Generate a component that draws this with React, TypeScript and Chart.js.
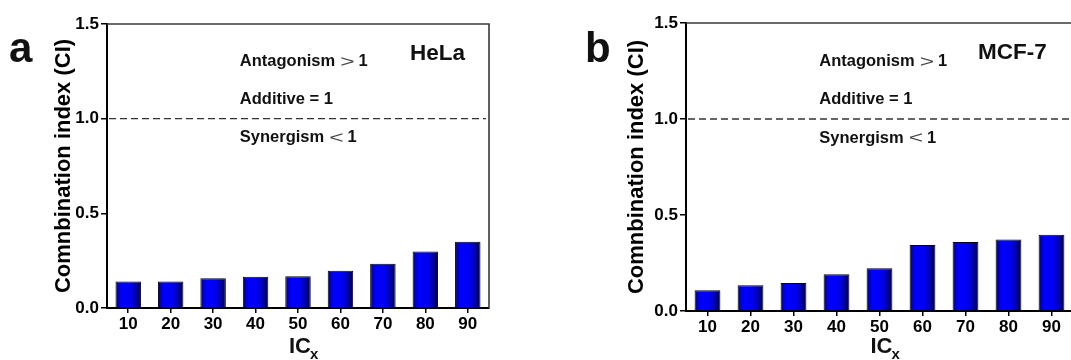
import React, { useEffect, useRef } from 'react';
import { Chart, registerables } from 'chart.js';

Chart.register(...registerables);

// ---------- data ----------
const categories = ['10', '20', '30', '40', '50', '60', '70', '80', '90'];
const helaCI = [0.14, 0.14, 0.157, 0.165, 0.168, 0.197, 0.234, 0.299, 0.35];
const mcf7CI = [0.108, 0.134, 0.146, 0.191, 0.223, 0.344, 0.359, 0.373, 0.397];
const yTickValues = [0, 0.5, 1.0, 1.5];
const referenceCI = 1.0;
const yAxisTitle = 'Comnbination index (CI)';
const xAxisTitle = 'IC';
const xAxisSubscript = 'x';
const cellLines = ['HeLa', 'MCF-7'];
const panelLetters = ['a', 'b'];

// ---------- annotation layout ----------
const FONT = '"Liberation Sans", Arial, Helvetica, sans-serif';
const relationNotes = [
  { word: 'Antagonism', sym: '>', num: '1', yValue: 1.3 },
  { word: 'Additive = 1', sym: '', num: '', yValue: 1.1 },
  { word: 'Synergism', sym: '<', num: '1', yValue: 0.9 },
];

type PanelCfg = {
  letter: string;
  cell: string;
  values: number[];
  left: number;
  width: number;
  padTop: number;
  padRight: number;
  yWidth: number;
  xHeight: number;
  titleGap: number;
  letterX: number;
  noteX: number;
  cellX: number;
  cellY: number;
};

const panels: PanelCfg[] = [
  {
    letter: panelLetters[0], cell: cellLines[0], values: helaCI,
    left: 0, width: 536, padTop: 24, padRight: 47, yWidth: 107, xHeight: 52,
    titleGap: 51, letterX: 9, noteX: 2.63, cellX: 6.64, cellY: 1.345,
  },
  {
    letter: panelLetters[1], cell: cellLines[1], values: mcf7CI,
    left: 536, width: 540, padTop: 23, padRight: 3, yWidth: 150, xHeight: 49,
    titleGap: 88, letterX: 49, noteX: 2.6, cellX: 6.29, cellY: 1.343,
  },
];

function barGradient(ctx: any) {
  const chart = ctx.chart;
  const xs = chart.scales && chart.scales.x;
  if (ctx.type !== 'data' || !xs || !chart.chartArea) return '#0000ee';
  const cx = xs.getPixelForValue(ctx.dataIndex);
  const w = (xs.width / categories.length) * 0.6;
  const g = chart.ctx.createLinearGradient(cx - w / 2, 0, cx + w / 2, 0);
  g.addColorStop(0, '#00002a');
  g.addColorStop(0.08, '#0000b8');
  g.addColorStop(0.22, '#0000ff');
  g.addColorStop(0.55, '#0000f4');
  g.addColorStop(0.78, '#0000b0');
  g.addColorStop(0.93, '#000055');
  g.addColorStop(1, '#00001c');
  return g;
}

function decorPlugin(cfg: PanelCfg) {
  return {
    id: 'decor' + cfg.letter,
    afterDraw(chart: any) {
      const { ctx, chartArea: a, scales } = chart;
      const xs = scales.x;
      const ys = scales.y;
      ctx.save();
      // frame top / right
      ctx.strokeStyle = '#3a3a3a';
      ctx.lineWidth = 1.6;
      ctx.beginPath();
      ctx.moveTo(a.left, a.top);
      ctx.lineTo(a.right, a.top);
      ctx.lineTo(a.right, a.bottom);
      ctx.stroke();
      // reference dashed line
      const ry = ys.getPixelForValue(referenceCI);
      ctx.setLineDash([7, 4]);
      ctx.strokeStyle = '#333';
      ctx.lineWidth = 1.4;
      ctx.beginPath();
      ctx.moveTo(a.left + 2, ry);
      ctx.lineTo(a.right - 3, ry);
      ctx.stroke();
      ctx.setLineDash([]);

      ctx.fillStyle = '#111';
      ctx.textBaseline = 'middle';
      ctx.textAlign = 'left';
      // relation notes
      const nx = xs.getPixelForValue(cfg.noteX);
      for (const n of relationNotes) {
        const y = ys.getPixelForValue(n.yValue);
        ctx.font = `bold 16.5px ${FONT}`;
        ctx.fillText(n.word, nx, y);
        if (n.sym) {
          let cx = nx + ctx.measureText(n.word).width + 5;
          ctx.save();
          ctx.font = `normal 17px ${FONT}`;
          ctx.fillStyle = '#444';
          ctx.translate(cx, y + 0.5);
          ctx.scale(1.45, 1);
          ctx.fillText(n.sym, 0, 0);
          const sw = ctx.measureText(n.sym).width * 1.45;
          ctx.restore();
          cx += sw + 4;
          ctx.font = `bold 16.5px ${FONT}`;
          ctx.fillText(n.num, cx, y);
        }
      }
      // cell line name
      ctx.font = `bold 22.5px ${FONT}`;
      ctx.fillText(cfg.cell, xs.getPixelForValue(cfg.cellX), ys.getPixelForValue(cfg.cellY));
      // panel letter
      ctx.textBaseline = 'alphabetic';
      ctx.font = `bold 42px ${FONT}`;
      ctx.fillText(cfg.letter, cfg.letterX, 62);
      // x axis title with subscript
      ctx.font = `bold 22px ${FONT}`;
      const icW = ctx.measureText(xAxisTitle).width;
      const cxm = (a.left + a.right) / 2 + 2;
      ctx.fillText(xAxisTitle, cxm - icW / 2, 352.5);
      ctx.font = `bold 15px ${FONT}`;
      ctx.fillText(xAxisSubscript, cxm + icW / 2 - 1, 359);
      ctx.restore();
    },
  };
}

function Panel({ cfg }: { cfg: PanelCfg }) {
  const ref = useRef<HTMLCanvasElement>(null);
  useEffect(() => {
    const tickFont = { family: FONT, size: 17, weight: 'bold' as const };
    const chart = new Chart(ref.current as HTMLCanvasElement, {
      type: 'bar',
      data: {
        labels: categories,
        datasets: [
          {
            data: cfg.values,
            backgroundColor: barGradient as any,
            borderColor: '#000028',
            borderWidth: 1,
            borderSkipped: 'bottom',
            barPercentage: 0.6,
            categoryPercentage: 1,
          },
        ],
      },
      options: {
        animation: false,
        responsive: false,
        devicePixelRatio: 1,
        layout: { padding: { left: 0, top: cfg.padTop, right: cfg.padRight, bottom: 0 } },
        plugins: { legend: { display: false }, tooltip: { enabled: false } },
        scales: {
          x: {
            type: 'category',
            offset: true,
            grid: {
              display: true, drawOnChartArea: false, drawTicks: true,
              tickLength: 5, offset: false, color: '#000', lineWidth: 1.5,
            },
            border: { display: true, color: '#000', width: 2 },
            ticks: { font: tickFont, color: '#000', padding: 1.5, maxRotation: 0, autoSkip: false },
            afterFit: (s: any) => { s.height = cfg.xHeight; },
          },
          y: {
            min: 0,
            max: 1.5,
            grid: {
              display: true, drawOnChartArea: false, drawTicks: true,
              tickLength: 6, color: '#000', lineWidth: 1.5,
            },
            border: { display: true, color: '#000', width: 2 },
            ticks: {
              font: tickFont, color: '#000', padding: 2,
              callback: (v: any) => Number(v).toFixed(1),
            },
            afterBuildTicks: (s: any) => { s.ticks = yTickValues.map((v) => ({ value: v })); },
            title: {
              display: true,
              text: yAxisTitle,
              color: '#000',
              font: { family: FONT, size: 22, weight: 'bold' },
              padding: { top: cfg.titleGap, bottom: 0 },
            },
            afterFit: (s: any) => { s.width = cfg.yWidth; },
          },
        },
      },
      plugins: [decorPlugin(cfg)],
    });
    return () => chart.destroy();
  }, [cfg]);
  return (
    <canvas
      ref={ref}
      width={cfg.width}
      height={360}
      style={{ position: 'absolute', left: cfg.left, top: 0, width: cfg.width, height: 360 }}
    />
  );
}

export default function App() {
  return (
    <div
      style={{
        position: 'fixed', left: 0, top: 0, width: 1071, height: 360,
        overflow: 'hidden', background: '#fff',
      }}
    >
      {panels.map((p) => (
        <Panel key={p.letter} cfg={p} />
      ))}
    </div>
  );
}
